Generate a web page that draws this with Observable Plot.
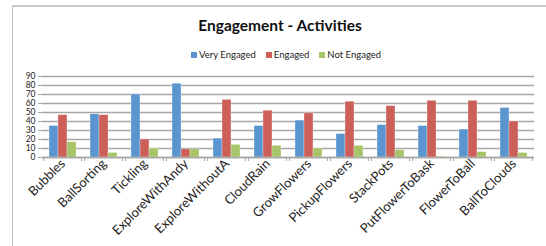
<!DOCTYPE html>
<html>
<head>
<meta charset="utf-8">
<script src="https://cdn.jsdelivr.net/npm/d3@7"></script>
<script src="https://cdn.jsdelivr.net/npm/@observablehq/plot@0.6"></script>
<style>
  html, body { margin: 0; padding: 0; background: #fff; }
  body { width: 546px; height: 246px; position: relative; overflow: hidden; font-family: Lato, "Open Sans", sans-serif; }
  #frame { position: absolute; left: 12px; top: 5px; width: 560px; height: 260px; border-left: 1px solid #bdbdbd; border-top: 2px solid #c8c8c8; }
  #title { position: absolute; left: 0; top: 16px; width: 560px; text-align: center; font-weight: bold; font-size: 15.5px; color: #111; }
  #legend { position: absolute; top: 49px; left: 191px; font-size: 9.5px; color: #222; display: flex; gap: 10px; white-space: nowrap; }
  #legend span.sw { display: inline-block; width: 6px; height: 6px; margin-right: 2px; vertical-align: 0px; }
  #chart { position: absolute; left: 0; top: 60px; }
</style>
</head>
<body>
<div id="frame"></div>
<div id="title">Engagement - Activities</div>
<div id="legend"></div>
<div id="chart"></div>
<script>
const categories = ["Bubbles","BallSorting","Tickling","ExploreWithAndy","ExploreWithoutA","CloudRain","GrowFlowers","PickupFlowers","StackPots","PutFlowerToBask","FlowerToBall","BallToClouds"];
const seriesNames = ["Very Engaged","Engaged","Not Engaged"];
const veryEngaged = [35, 48, 70, 82, 21, 35, 41, 26, 36, 35, 31, 55];
const engaged     = [47, 47, 20,  9, 64, 52, 49, 62, 57, 63, 63, 40];
const notEngaged  = [17,  5, 10,  9, 14, 13, 10, 13,  8,  1,  6,  5];
const colors = ["#5b95d0", "#cd5f59", "#a6c468"];
const yTicks = [0,10,20,30,40,50,60,70,80,90];

const seriesValues = [veryEngaged, engaged, notEngaged];
const data = [];
categories.forEach((c, i) => seriesNames.forEach((s, j) => data.push({category: c, series: s, value: seriesValues[j][i]})));

const legend = document.getElementById("legend");
seriesNames.forEach((s, j) => {
  const d = document.createElement("div");
  d.innerHTML = `<span class="sw" style="background:${colors[j]}"></span>${s}`;
  legend.appendChild(d);
});

const X_PAD_OUTER = 0.6;

// boundary ticks between categories on the x axis, derived from the facet's x band scale
const boundaryTicks = (index, scales, values, dimensions) => {
  const g = d3.create("svg:g");
  const x = scales.x;
  const bw = x.bandwidth ? x.bandwidth() : 0;
  const first = x(seriesNames[0]);
  const last = x(seriesNames[seriesNames.length - 1]) + bw;
  const pad = X_PAD_OUTER * bw;
  const y0 = scales.y(0);
  [first - pad, last + pad].forEach(px => {
    g.append("line").attr("x1", px).attr("x2", px).attr("y1", y0).attr("y2", y0 + 4)
      .attr("stroke", "#a6a6a6").attr("stroke-width", 1);
  });
  return g.node();
};

const chart = Plot.plot({
  width: 546,
  height: 186,
  marginTop: 16,
  marginBottom: 89,
  marginLeft: 38,
  marginRight: 9,
  style: {fontFamily: "Lato, 'Open Sans', sans-serif", fontSize: "9px", color: "#222", background: "transparent"},
  fx: {domain: categories, padding: 0, label: null},
  x: {domain: seriesNames, paddingInner: 0, paddingOuter: X_PAD_OUTER, axis: null},
  y: {domain: [0, 90], ticks: yTicks, label: null},
  color: {domain: seriesNames, range: colors},
  marks: [
    Plot.gridY(yTicks, {stroke: "#a6a6a6", strokeOpacity: 1, strokeWidth: 1.5}),
    Plot.axisY(yTicks, {tickSize: 4, tickPadding: 3, label: null, stroke: "#a6a6a6", fontSize: 8.5}),
    Plot.axisFx({tickSize: 0, tickPadding: 4, tickRotate: -45, label: null, fontSize: 13, anchor: "bottom"}),
    Plot.barY(data, {fx: "category", x: "series", y: "value", fill: "series", stroke: "white", strokeWidth: 0.5, strokeOpacity: 0.6}),
    Plot.ruleY([0], {stroke: "#a6a6a6", strokeWidth: 1.5}),
    boundaryTicks
  ]
});
document.getElementById("chart").appendChild(chart);
</script>
</body>
</html>
